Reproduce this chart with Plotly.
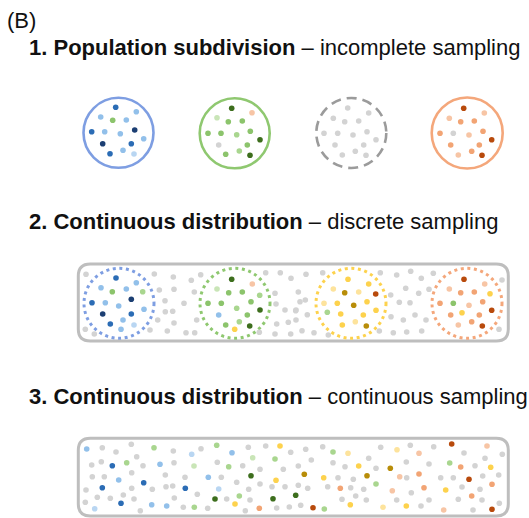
import plotly.graph_objects as go

# ---------------- colour categories ----------------
CAT_COLORS = {
    "B3": "#1c3f73", "B2": "#2b6cb5", "B1": "#92c0ea", "B0": "#b9d6f2",
    "G3": "#3d6e1d", "G2": "#8cc46c", "G1": "#a9d68f", "G0": "#c9e5b7",
    "O3": "#b84a0c", "O2": "#f2a474", "O1": "#f7c5a5",
    "Y3": "#b88d09", "Y2": "#fdd24d", "Y1": "#fde39c",
    "N": "#d3d3d3",
}

# ---------------- panel 1 : four separate populations ----------------
P1_X = [115.7, 100.7, 136.3, 112.7, 126.3, 91.7, 104.7, 120.3, 134.7, 143.7, 102.7, 131.3, 110, 123, 134,
        231.7, 252, 217, 228.3, 242.3, 208, 221, 236.7, 250.3, 260, 218.7, 247.3, 225.7, 239.3, 250,
        347.7, 368.7, 333.3, 344.7, 358.7, 324, 337.7, 353, 367, 376, 335, 363.7, 342.3, 355.3, 366,
        463.7, 484.3, 449.3, 460.7, 474.3, 440, 453.3, 469, 483, 491.7, 450.7, 479.3, 458.3, 471.7, 482]
P1_Y = [107.3, 117, 111.7, 120.3, 120, 131.7, 131.7, 133.7, 130, 138.7, 143.7, 143.7, 153.7, 150.3, 154,
        108.3, 112.7, 117.7, 121.7, 121, 133.3, 133.3, 134.7, 131.3, 139.7, 145, 145, 154.3, 151, 155.3,
        108, 113, 118.3, 121.7, 121, 133.3, 133.3, 135, 131.7, 139.7, 145, 145, 155, 151.3, 155.3,
        108.3, 113, 118.3, 121.7, 121, 133.3, 133.3, 135, 131.3, 139.7, 145, 145, 155, 151.3, 155.3]
P1_C = ["B2", "B1", "B1", "G2", "B1", "B2", "B1", "B1", "B3", "B1", "B3", "B2", "B2", "B1", "B0",
        "G3", "O1", "G0", "G2", "G2", "G2", "G2", "G1", "G2", "G3", "N", "G2", "G2", "G1", "G3",
        "N", "N", "N", "N", "N", "N", "N", "N", "N", "N", "N", "N", "N", "N", "N",
        "O3", "O1", "O1", "O2", "O2", "O2", "N", "O1", "O2", "O3", "O2", "O2", "O1", "O2", "O3"]

P1_CIRCLE_CX = [118.5, 234.7, 351.3, 467.2]
P1_CIRCLE_CY = [132.8, 133.3, 133.0, 133.0]
P1_CIRCLE_R = [35, 35, 35, 35.5]
P1_CIRCLE_COLOR = ["#7e9ee2", "#8fc870", "#9b9b9b", "#f4a77b"]
P1_CIRCLE_DASH = ["solid", "solid", "10px,6px", "solid"]

# ---------------- panel 2 : continuous distribution, discrete sampling ----------------
P2_X = [116, 101, 136.3, 112.3, 126.3, 142.7, 92, 105.3, 118.7, 131.3, 144, 102.7, 131.3, 110.3, 123, 134, 121,
        231.7, 252.3, 217, 228.7, 242.3, 259.7, 208, 221.3, 236.7, 251, 260, 218.7, 247.3, 225.7, 239.3, 249.7, 234.7,
        348, 368.7, 333.3, 344.7, 358.7, 375.7, 324, 337.3, 353.7, 367, 376, 327.3, 340.7, 363.3, 342.3, 355.3, 366.3,
        464, 484.7, 449.3, 460.7, 474.3, 490, 440, 453.3, 469, 482.7, 491.7, 450.7, 462, 479.3, 458.3, 471.7, 482.3,
        86, 154.3, 173.3, 191.3, 200.7, 159.3, 174, 165, 184, 194.3, 165.3, 172.7, 196.7, 174, 157.7, 150, 167.3,
        186, 194.7, 85.3, 94.3, 265.7, 280.3, 291, 275, 276, 285, 295.7, 288.3, 276.7, 259.3, 275, 290.7, 300,
        306, 322.7, 298.3, 305.3, 296, 307.3, 296, 302, 314, 328.3, 380.3, 396.7, 410.7, 421.3, 433.3, 390.7,
        405.7, 418.7, 429, 399.3, 410, 391, 403.3, 415, 426, 379.3, 393.3, 406.7, 421.7, 502, 499]
P2_Y = [278, 287.7, 282.7, 291.7, 289, 291.7, 302.7, 302.7, 306, 299.3, 309.3, 314, 314, 324, 320, 325, 329.3,
        279.3, 284, 289, 292.7, 292, 295.3, 303.3, 303.3, 308.3, 301.7, 310, 315, 315, 325, 321.7, 326, 329.3,
        279.3, 284, 289, 292.7, 292, 294, 303.3, 303.3, 305.3, 301.7, 310.3, 312.3, 314, 315, 325, 321.7, 326,
        279.3, 284, 289, 292.7, 292, 293.7, 303.3, 303.3, 305.3, 301.7, 310.3, 315, 312.7, 315, 325, 321.7, 326,
        274.3, 274, 277, 280.3, 274.7, 290, 289.3, 300.7, 303.3, 292, 311.7, 311.3, 320, 323, 320, 330, 331,
        332.7, 332.7, 329.3, 334, 272.7, 272.7, 278.3, 293.3, 304, 310, 310.7, 322.3, 324, 332.3, 334, 334, 301.7,
        274.3, 272.7, 292, 300, 310, 314.7, 320, 330.7, 332.7, 335, 272.7, 275, 271.3, 278.3, 273.3, 295,
        288.3, 293.3, 289.3, 302.3, 302.7, 316.7, 320, 315, 320, 331, 332.7, 332, 331, 280, 329.3]
P2_C = ["B2", "B1", "B1", "G2", "B1", "G1", "B2", "B1", "B1", "B3", "B1", "B3", "B2", "B2", "B1", "B0", "B1",
        "G3", "O1", "G0", "G2", "G2", "G1", "G2", "G2", "G1", "G2", "G3", "B1", "G2", "G2", "G1", "G3", "Y2",
        "Y2", "Y2", "Y1", "Y3", "Y1", "O3", "Y1", "Y2", "Y3", "Y2", "Y2", "G1", "Y2", "Y2", "Y2", "Y1", "Y3",
        "O3", "O1", "O1", "O2", "O2", "Y2", "O2", "G2", "O1", "O2", "O3", "O2", "Y2", "O2", "O1", "O2", "O3"] + ["N"] * 65

P2_CIRCLE_CX = [119, 235, 351, 467]
P2_CIRCLE_CY = [303.3, 303.3, 303.3, 303.3]
P2_CIRCLE_R = [35, 35, 35, 35]
P2_CIRCLE_COLOR = ["#7e9ee2", "#8fc870", "#fdd24d", "#f4a77b"]

# ---------------- panel 3 : continuous distribution, continuous sampling ----------------
P3_X = [86.7, 102.3, 116, 131.3, 154, 136.7, 173.3, 191.7, 201, 216.7, 232, 248.3, 265.7, 280, 290.7,
        91.7, 101.3, 112.3, 126.7, 143, 160, 174, 194, 217.3, 228.7, 242.7, 252.7, 260, 275, 283.3,
        92.3, 104.3, 118.7, 131.7, 143.7, 165.3, 185, 208.3, 221.3, 251, 276, 260, 236.7,
        86, 102.3, 123.3, 131.7, 152.3, 166, 172.7, 185.3, 197.3, 218.7, 239.3, 248.7, 272, 285, 295.7,
        85.3, 97.3, 110.3, 121, 134, 151.7, 166.7, 174.3, 183.3, 194.3, 207.7, 215, 226.7, 235, 250, 273,
        276.7, 289.3, 259.3, 245.3, 140.3, 94.7,
        305.7, 322.7, 333, 348, 380.7, 397, 410.3, 419, 433.7, 451.7, 464, 487, 502.3,
        298.3, 311.3, 333, 345, 358.7, 368.7, 376, 390.3, 406.3, 429, 449.7, 460.7, 475, 485, 490.7,
        304.3, 323.7, 338, 353.3, 367, 399.7, 406.7, 419, 440.7, 453.3, 469, 482.7, 498.7,
        298.3, 307.7, 327.7, 340.3, 350.7, 363.7, 376, 392.3, 411.3, 424, 445.7, 462, 480, 492,
        342, 355.7, 366.3, 396.7, 429, 458.3, 471.7, 482, 499.3,
        300.7, 313, 324.3, 350.3, 383, 406.3, 421, 443.7, 473, 492]
P3_Y = [449, 447.7, 452, 444.3, 447.7, 456.7, 451, 454.3, 448.7, 445.3, 452.7, 447.3, 446, 446, 452.3,
        465, 461.7, 465.7, 462.7, 465.7, 464.3, 462.7, 466, 462.3, 466.7, 465.7, 457.7, 469.3, 459, 469.3,
        476.7, 476.7, 480, 472.7, 482.7, 475, 477.3, 477.3, 477.3, 475.7, 480.3, 484, 482.3,
        490, 487.7, 495, 488.3, 489.3, 486.7, 486, 488.3, 494.3, 489, 496, 489.3, 486.7, 486.7, 495.3,
        502.3, 497.3, 498.3, 503.3, 499, 504.7, 506, 498, 507.3, 507.3, 508.3, 499, 499, 504, 500, 498.7,
        508, 507, 508.3, 510.7, 510.7, 508.7,
        449.3, 446.7, 452, 453.3, 447.3, 449.7, 445.3, 453.3, 446.7, 444, 453, 446, 454.3,
        466, 460, 462.7, 466.7, 466, 458.3, 468.3, 468.3, 462, 464, 463, 467, 465.7, 458.3, 467.3,
        474.3, 477.7, 477.7, 479.3, 475.7, 476.7, 477.7, 474, 477.7, 477.7, 479.3, 476, 475,
        485.3, 488.3, 486.7, 488.3, 487.7, 489.3, 484, 490.7, 492.7, 487.7, 490, 487, 489.3, 484.3,
        499.3, 496, 500, 500, 500, 499.3, 496, 500, 503.3,
        505.3, 507.7, 509, 504.7, 507.3, 506, 506, 510, 510, 509.3]
P3_C = ["B1", "N", "N", "N", "G1", "N", "N", "B0", "N", "G1", "B1", "N", "N", "Y2", "N",
        "N", "N", "B2", "G1", "N", "B1", "N", "G0", "N", "G1", "N", "G0", "N", "G1", "N",
        "N", "N", "B1", "N", "B2", "N", "N", "B1", "N", "G3", "Y2", "N", "N",
        "N", "B2", "N", "N", "N", "N", "N", "B2", "N", "B0", "G1", "N", "N", "N", "G3",
        "N", "N", "N", "B2", "N", "B1", "B1", "N", "N", "G1", "N", "G3", "N", "Y2", "N", "G3",
        "N", "N", "O2", "N", "N", "B0",
        "N", "N", "G1", "Y1", "N", "Y1", "N", "O1", "N", "O3", "N", "O1", "N",
        "N", "N", "N", "N", "Y2", "N", "N", "Y3", "N", "N", "G1", "O2", "N", "N", "Y2",
        "Y3", "Y2", "N", "N", "Y3", "O1", "N", "O2", "N", "N", "O3", "N", "N",
        "N", "N", "N", "O2", "N", "N", "G1", "O1", "N", "O2", "Y2", "N", "N", "O2",
        "N", "N", "N", "N", "N", "N", "O2", "N", "N",
        "N", "O3", "G1", "Y2", "Y1", "Y2", "N", "O1", "N", "O3"]

# rounded boxes of panels 2 and 3
BOX_X0 = [78.3, 78.3]
BOX_X1 = [508.3, 508.3]
BOX_Y0 = [264, 438.3]
BOX_Y1 = [341, 516]
BOX_R = 12

# texts
TITLES = [
    ("(B)", 5, 20),
    ("<b>1. Population subdivision</b> – incomplete sampling", 27, 47),
    ("<b>2. Continuous distribution</b> – discrete sampling", 27, 221),
    ("<b>3. Continuous distribution</b> – continuous sampling", 27, 396),
]

fig = go.Figure()
shapes = []

def rounded_path(x0, y0, x1, y1, r):
    return (f"M {x0+r},{y0} L {x1-r},{y0} Q {x1},{y0} {x1},{y0+r} "
            f"L {x1},{y1-r} Q {x1},{y1} {x1-r},{y1} L {x0+r},{y1} "
            f"Q {x0},{y1} {x0},{y1-r} L {x0},{y0+r} Q {x0},{y0} {x0+r},{y0} Z")

for x0, x1, y0, y1 in zip(BOX_X0, BOX_X1, BOX_Y0, BOX_Y1):
    shapes.append(dict(type="path", xref="x", yref="y", path=rounded_path(x0, y0, x1, y1, BOX_R),
                       line=dict(color="#bebebe", width=3), fillcolor="rgba(0,0,0,0)", layer="below"))

for cx, cy, r, col, dash in zip(P1_CIRCLE_CX, P1_CIRCLE_CY, P1_CIRCLE_R, P1_CIRCLE_COLOR, P1_CIRCLE_DASH):
    shapes.append(dict(type="circle", xref="x", yref="y", x0=cx - r, x1=cx + r, y0=cy - r, y1=cy + r,
                       line=dict(color=col, width=2.6, dash=dash), layer="below"))

for cx, cy, r, col in zip(P2_CIRCLE_CX, P2_CIRCLE_CY, P2_CIRCLE_R, P2_CIRCLE_COLOR):
    shapes.append(dict(type="circle", xref="x", yref="y", x0=cx - r, x1=cx + r, y0=cy - r, y1=cy + r,
                       line=dict(color=col, width=3, dash="3px,3.6px"), layer="below"))

for xs, ys, cs in [(P1_X, P1_Y, P1_C), (P2_X, P2_Y, P2_C), (P3_X, P3_Y, P3_C)]:
    n = min(len(xs), len(ys), len(cs))
    # grey background dots first, coloured dots on top
    order = sorted(range(n), key=lambda i: cs[i] != "N")
    fig.add_trace(go.Scatter(
        x=[xs[i] for i in order], y=[ys[i] for i in order], mode="markers",
        marker=dict(size=5.6, color=[CAT_COLORS[cs[i]] for i in order], line=dict(width=0)),
        hoverinfo="skip", showlegend=False))

annotations = [dict(x=x, y=y, xref="x", yref="y", text=t, showarrow=False, xanchor="left",
                    yanchor="middle", font=dict(family="Liberation Sans, Arial", size=22, color="#111111"))
               for t, x, y in TITLES]

fig.update_layout(
    width=529, height=518, margin=dict(l=0, r=0, t=0, b=0),
    paper_bgcolor="white", plot_bgcolor="white",
    xaxis=dict(range=[0, 529], visible=False, fixedrange=True),
    yaxis=dict(range=[518, 0], visible=False, fixedrange=True),
    shapes=shapes, annotations=annotations,
)

fig.write_html("out.html", config={"displayModeBar": False},
               post_script="document.body.style.margin='0';document.body.style.overflow='hidden';")
